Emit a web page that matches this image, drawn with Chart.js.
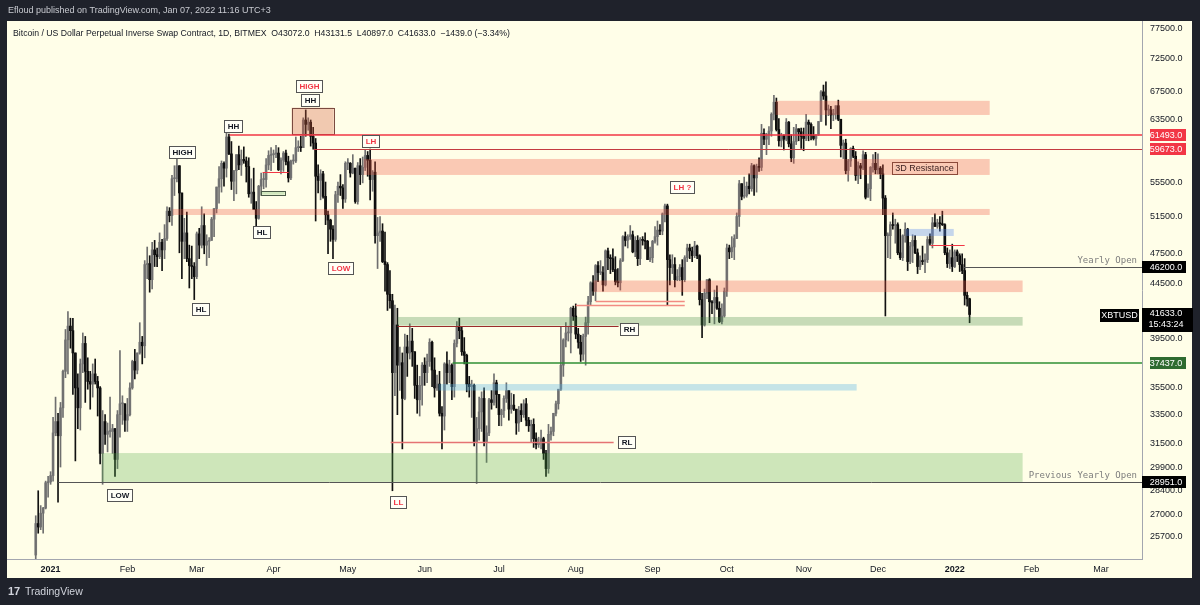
<!DOCTYPE html>
<html>
<head>
<meta charset="utf-8">
<script src="https://cdn.jsdelivr.net/npm/chart.js@4.4.1/dist/chart.umd.min.js"></script>
<style>
  html, body { margin: 0; padding: 0; background: #1f222b; overflow: hidden; }
  canvas { display: block; }
</style>
</head>
<body>
<canvas id="chart" width="1200" height="605"></canvas>
<script>
// daily candles, one row per day: [open, high, low, close]
const dec2020 = [
  [24700,26900,24500,26450],[26450,28400,25900,26250],[26250,27500,26100,27050],[27050,27400,25900,27350],
  [27350,29000,27300,28900],[28900,29300,28000,28951]
];
const jan2021 = [
  [28951,29600,28800,29350],[29350,33300,29000,32200],[32200,34800,32000,33000],[33000,33600,27700,32000],
  [32000,34400,29900,34000],[34000,36900,33300,36800],[36800,40300,36300,39400],[39400,41900,36600,40600],
  [40600,41300,38700,40200],[40200,41300,35000,38300],[38300,38300,30300,35500],[35500,36600,32500,34000],
  [34000,37800,32400,37400],[37400,40000,36700,39100],[39100,39700,34400,36800],[36800,37900,35400,36000],
  [36000,36800,33900,35800],[35800,37400,34800,36600],[36600,37800,35800,36000],[36000,36400,33400,35500],
  [35500,35600,30100,30800],[30800,33800,28800,33000],[33000,33500,31400,32100],[32100,32900,30900,32300],
  [32300,34800,31900,32300],[32300,32800,30800,32500],[32500,32500,29300,30400],[30400,33800,29800,33500],
  [33500,38500,31900,34300],[34300,34900,32800,34300],[34300,34300,32300,33100]
];
const feb2021 = [
  [33100,34700,32300,33500],[33500,35900,33400,35500],[35500,37700,35400,37600],[37600,38600,36200,36900],
  [36900,38300,36600,38300],[38300,40900,38200,39200],[39200,39700,37400,38900],[38900,46800,37900,46400],
  [46400,48200,45000,46500],[46500,47300,43700,44900],[44900,48700,44000,47900],[47900,48900,46200,47400],
  [47400,48100,46200,47200],[47200,49700,47000,48700],[48700,49000,45800,47900],[47900,50600,47000,49100],
  [49100,52600,48900,52100],[52100,52500,50900,51600],[51600,56300,50500,55900],[55900,57500,53900,55900],
  [55900,58300,55500,57500],[57500,57500,47600,54200],[54200,54200,45000,48800],[48800,51300,47000,49700],
  [49700,52000,46700,47000],[47000,48400,44100,46300],[46300,48300,45000,46200],[46200,46600,43000,45200]
];
const mar2021 = [
  [45200,49800,45000,49600],[49600,50200,47000,48400],[48400,52600,48100,50500],[50500,51800,47500,48400],
  [48400,49500,46300,48800],[48800,49200,47100,48900],[48900,51400,48900,51200],[51200,52400,49300,52400],
  [52400,54900,51900,54900],[54900,57400,53000,55900],[55900,58100,54300,57800],[57800,58000,55000,57200],
  [57200,61700,56100,61200],[61200,61600,58900,59000],[59000,60600,54600,55600],[55600,56900,53300,56900],
  [56900,58900,54100,58900],[58900,60000,57000,57600],[57600,59500,56300,58300],[58300,59900,57800,58100],
  [58100,58600,55500,57400],[57400,58500,53700,54100],[54100,55900,53000,54300],[54300,57200,52500,52300],
  [52300,53200,50400,51300],[51300,55100,51200,55000],[55000,56600,53900,55800],[55800,56600,54700,55800],
  [55800,58400,54900,57600],[57600,59400,57000,58800],[58800,59800,56900,58900]
];
const apr2021 = [
  [58900,59500,57900,59000],[59000,60100,58500,59100],[59100,59800,56900,57000],[57000,58500,56500,58200],
  [58200,59300,56800,59100],[59100,59500,57600,58000],[58000,58700,55500,56000],[56000,58200,55800,58100],
  [58100,58900,57700,58100],[58100,61200,57900,59800],[59800,60700,59300,59900],[59900,61300,59300,59800],
  [59800,63800,59800,63500],[63500,64900,61300,62900],[62900,63800,62100,63200],[63200,63500,60000,61300],
  [61300,62500,59600,60400],[60400,61000,51000,56200],[56200,57600,54200,55700],[55700,57000,53400,56500],
  [56500,56800,53600,53800],[53800,55500,50600,51700],[51700,52100,47500,51100],[51100,51200,48800,50100],
  [50100,50500,47000,49000],[49000,54400,48800,54000],[54000,55500,53100,55000],[55000,56400,53900,54800],
  [54800,55200,52400,53500],[53500,58000,53100,57800]
];
const may2021 = [
  [57800,58400,57000,57800],[57800,57900,56100,56600],[56600,58900,56500,57200],[57200,57200,53000,53200],
  [53200,57900,52900,57500],[57500,58400,55200,56400],[56400,58600,55400,57300],[57300,59500,56900,58800],
  [58800,59300,56200,58200],[58200,59600,53400,55800],[55800,56900,54400,56700],[56700,58000,48600,49400],
  [49400,51400,46000,49700],[49700,51500,48800,49900],[49900,50700,46600,46700],[46700,49800,43800,46400],
  [46400,46600,42000,43500],[43500,45800,42200,42900],[42900,43500,28400,36700],[36700,42500,34900,40700],
  [40700,42200,33500,37300],[37300,38800,35300,37500],[37500,38300,31100,34700],[34700,39900,34600,38800],
  [38800,39800,36400,38300],[38300,40800,37800,39300],[39300,40400,37200,38400],[38400,38400,34700,35700],
  [35700,37300,33600,34600],[34600,36400,33400,35700],[35700,37500,34200,37300]
];
const jun2021 = [
  [37300,37900,35700,36700],[36700,38200,35900,37600],[37600,39500,37200,39200],[39200,39300,35600,36900],
  [36900,37900,34800,35500],[35500,36500,35300,35800],[35800,36800,33400,33600],[33600,34100,31100,33400],
  [33400,37500,32400,37400],[37400,38400,35800,36700],[36700,37700,35900,37300],[37300,37400,34600,35600],
  [35600,39400,34800,39100],[39100,41000,38800,40500],[40500,41300,39500,40200],[40200,40500,38100,38400],
  [38400,39600,37400,38100],[38100,38200,35200,35800],[35800,36400,34800,35600],[35600,36100,33300,35700],
  [35700,35800,31300,31600],[31600,33300,28850,32500],[32500,34800,31700,33700],[33700,35200,32300,34700],
  [34700,35500,31300,31600],[31600,32700,30200,32200],[32200,34700,32000,34600],[34600,35300,33900,34400],
  [34400,36600,34200,35900],[35900,36100,34000,35000]
];
const jul2021 = [
  [35000,35000,32700,33500],[33500,33900,32700,33800],[33800,34900,33300,34700],[34700,35900,34400,35300],
  [35300,35300,33100,33900],[33900,35100,33600,34200],[34200,35000,33800,33900],[33900,33900,32100,32900],
  [32900,34100,32300,33800],[33800,34300,33000,33500],[33500,34600,33300,34300],[34300,34700,32700,33100],
  [33100,33300,32300,32700],[32700,33100,31600,32800],[32800,33200,31200,31800],[31800,32200,31100,31400],
  [31400,31900,31200,31500],[31500,32400,31100,31800],[31800,31900,30400,30800],[30800,31000,29300,29800],
  [29800,32800,29500,32100],[32100,32600,31700,32300],[32300,33600,32000,33600],[33600,34500,33400,34300],
  [34300,35400,33900,35400],[35400,40500,35300,37300],[37300,39500,36400,39400],[39400,40900,38800,40000],
  [40000,40600,39300,40000],[40000,42300,38300,42200],[42200,42400,41100,41500]
];
const aug2021 = [
  [41500,42600,39500,39900],[39900,40400,38700,39200],[39200,39800,37600,38200],[38200,39900,37700,39700],
  [39700,41400,37300,40900],[40900,43300,39900,42800],[42800,44700,42500,44600],[44600,45300,43400,43800],
  [43800,46400,42900,46300],[46300,46700,44700,45600],[45600,46800,45400,45600],[45600,46200,43800,44400],
  [44400,47900,44300,47800],[47800,48100,45900,47100],[47100,47400,45500,47000],[47000,48000,45700,45900],
  [45900,47200,44400,44700],[44700,46000,44200,44600],[44600,47000,43900,46800],[46800,49400,46700,49300],
  [49300,49800,48300,48900],[48900,49500,48100,49300],[49300,50500,49000,49500],[49500,49900,47600,47700],
  [47700,49300,47200,48900],[48900,49400,46300,47000],[47000,49200,46400,49000],[49000,49300,48400,48900],
  [48900,49700,48000,48800],[48800,48900,46900,46900],[46900,48200,46700,47100]
];
const sep2021 = [
  [47100,48900,46600,48800],[48800,50400,48600,49300],[49300,51000,48400,50000],[50000,50600,49500,49900],
  [49900,51900,49500,51800],[51800,52900,50900,52700],[52700,52900,42500,46900],[46900,47400,44400,46100],
  [46100,47400,45500,46400],[46400,47100,44200,44900],[44900,45900,44800,45200],[45200,46400,44800,46100],
  [46100,46900,43400,44900],[44900,47300,44700,47100],[47100,48500,46700,48100],[48100,48500,47000,47800],
  [47800,48200,46700,47300],[47300,48800,47100,48300],[48300,48400,47000,47300],[47300,47400,42500,43000],
  [43000,43600,39600,40700],[40700,44000,40600,43600],[43600,44900,43100,44900],[44900,45000,40900,42800],
  [42800,42900,41700,42700],[42700,43900,40800,43200],[43200,44300,42100,42200],[42200,42800,40900,41000],
  [41000,42600,40800,41500],[41500,44100,41400,43800]
];
const oct2021 = [
  [43800,48500,43300,48100],[48100,48400,47000,47700],[47700,49300,47100,48200],[48200,49500,46900,49100],
  [49100,51900,49100,51500],[51500,55700,50400,55300],[55300,55300,53400,53800],[53800,56100,53600,53900],
  [53900,55500,53700,55000],[55000,56500,54100,54700],[54700,57800,54400,57500],[57500,57600,53900,56000],
  [56000,57700,54300,57400],[57400,58500,56800,57300],[57300,62900,56900,61700],[61700,62300,60200,60900],
  [60900,61700,58900,61500],[61500,62600,60200,62000],[62000,64500,61300,64300],[64300,67000,63500,66000],
  [66000,66600,62000,62200],[62200,63700,60000,60700],[60700,61700,59900,61400],[61400,61500,59500,60900],
  [60900,63700,60700,63200],[63200,63300,59900,60300],[60300,61500,58000,58500],[58500,62500,57800,60600],
  [60600,62900,60200,62300],[62300,62300,60700,61900],[61900,62400,59700,61300]
];
const nov2021 = [
  [61300,62400,59400,61000],[61000,64300,60700,63200],[63200,63500,60700,62900],[62900,63100,60800,61400],
  [61400,62600,60800,61000],[61000,61500,60100,61500],[61500,63300,61400,63300],[63300,67700,63300,67500],
  [67500,68500,66400,66900],[66900,69000,62800,64900],[64900,65600,64100,64900],[64900,65400,62300,64200],
  [64200,65000,63400,64400],[64400,65500,63600,65500],[65500,66300,63400,63600],[63600,63600,58600,60100],
  [60100,60800,58400,60400],[60400,60900,56500,56900],[56900,58300,55600,58100],[58100,59800,57400,59700],
  [59700,60000,58500,58700],[58700,59300,55700,56300],[56300,58000,55300,57500],[57500,57800,55900,57200],
  [57200,59400,57000,58900],[58900,59200,53500,53700],[53700,55300,53700,54700],[54700,57400,53300,57300],
  [57300,58900,56700,57800],[57800,59200,56500,57000]
];
const dec2021 = [
  [57000,59000,56500,57200],[57200,57400,55900,56500],[56500,57600,51700,53600],[53600,53900,41500,49400],
  [49400,49700,47100,49400],[49400,50900,47000,50600],[50600,51900,50100,50500],[50500,51200,48600,50600],
  [50600,50800,47400,47600],[47600,50100,46900,47100],[47100,49500,46800,49400],[49400,50800,48700,50100],
  [50100,50200,45800,46700],[46700,48700,46500,48300],[48300,49500,46600,48900],[48900,49400,47500,47600],
  [47600,48000,45500,46200],[46200,47300,45900,46800],[46800,48300,46400,46700],[46700,47500,45600,46900],
  [46900,49300,46600,49000],[49000,49600,48400,48600],[48600,51400,48100,50800],[50800,51800,50400,50400],
  [50400,51200,50200,50800],[50800,51500,49900,50700],[50700,52100,50500,50600],[50600,50700,47400,47600],
  [47600,48100,46100,46500],[46500,47900,46000,47100],[47100,48500,45700,46200]
];
const jan2022 = [
  [46200,47900,46100,47700],[47700,47900,46700,47300],[47300,47500,45700,46400],[46400,47500,45500,45800],
  [45800,47000,42500,43400],[43400,43700,42400,43072],[43072,43131.5,40897,41633]
];

// each month and the day number (from 1 Jan 2021) of its first candle
const months = [
  [dec2020, -6], [jan2021, 0], [feb2021, 31], [mar2021, 59], [apr2021, 90], [may2021, 120],
  [jun2021, 151], [jul2021, 181], [aug2021, 212], [sep2021, 243], [oct2021, 273],
  [nov2021, 304], [dec2021, 334], [jan2022, 365]
];

// axis ticks
const monthTickDays = [0, 31, 59, 90, 120, 151, 181, 212, 243, 273, 304, 334, 365, 396, 424];
const monthTickLabels = ['2021', 'Feb', 'Mar', 'Apr', 'May', 'Jun', 'Jul', 'Aug', 'Sep', 'Oct', 'Nov', 'Dec', '2022', 'Feb', 'Mar'];
const priceTicks = [77500, 72500, 67500, 63500, 55500, 51500, 47500, 44500, 39500, 35500, 33500, 31500, 29900, 28400, 27000, 25700];

// drawings on the chart, in days and prices
const zones = [
  { x0: 292.7, x1: 379.1, lo: 64200, hi: 66200, fill: 'rgba(240,80,60,0.3)' },
  { x0: 126.4, x1: 379.1, lo: 56360, hi: 58350, fill: 'rgba(240,80,60,0.3)' },
  { x0: 49.3, x1: 379.1, lo: 51670, hi: 52350, fill: 'rgba(240,80,60,0.3)' },
  { x0: 219.2, x1: 392.4, lo: 43710, hi: 44820, fill: 'rgba(240,80,60,0.3)' },
  { x0: 140.1, x1: 392.4, lo: 40640, hi: 41410, fill: 'rgba(70,140,70,0.3)' },
  { x0: 20.6, x1: 392.4, lo: 28950, hi: 30820, fill: 'rgba(80,170,70,0.28)' },
  { x0: 156.6, x1: 325.4, lo: 35300, hi: 35800, fill: 'rgba(90,180,230,0.35)' },
  { x0: 345.2, x1: 364.6, lo: 49370, hi: 50130, fill: 'rgba(90,140,240,0.35)' },
  { x0: 97.3, x1: 114.3, lo: 61600, hi: 65220, fill: 'rgba(210,90,60,0.32)', stroke: '#7a4a40' },
  { x0: 84.8, x1: 94.5, lo: 54000, hi: 54430, fill: 'rgba(120,190,110,0.35)', stroke: '#4a5a48' }
];
const levels = [
  { x0: 72.3, x1: 441, price: 61493, color: '#f23645', width: 1.3, soft: true },
  { x0: 106.2, x1: 441, price: 59673, color: '#c43a3f', width: 1 },
  { x0: 140.1, x1: 229.3, price: 40640, color: '#9c2b2b', width: 1 },
  { x0: 162.3, x1: 441, price: 37437, color: '#2f8f35', width: 1.3, soft: true },
  { x0: 137.3, x1: 227.3, price: 31570, color: '#e57373', width: 1.5 },
  { x0: 3, x1: 441, price: 28951, color: '#555555', width: 1 },
  { x0: 368.6, x1: 441, price: 46200, color: '#555555', width: 1 },
  { x0: 355.3, x1: 369, price: 48410, color: '#f23645', width: 1 },
  { x0: 220, x1: 256, price: 42870, color: '#f28b82', width: 1.5 },
  { x0: 212, x1: 256, price: 42500, color: '#f28b82', width: 1.5 },
  { x0: 85.6, x1: 96.1, price: 56720, color: '#f23645', width: 1 }
];
const notes = [
  { day: 52.9, price: 59240, text: 'HIGH', color: '#131722' },
  { day: 60.6, price: 42140, text: 'HL', color: '#131722' },
  { day: 73.5, price: 62680, text: 'HH', color: '#131722' },
  { day: 85.2, price: 49800, text: 'HL', color: '#131722' },
  { day: 104.2, price: 68360, text: 'HIGH', color: '#f23645' },
  { day: 104.6, price: 66320, text: 'HH', color: '#131722' },
  { day: 129.2, price: 60670, text: 'LH', color: '#f23645' },
  { day: 117.1, price: 46060, text: 'LOW', color: '#f23645' },
  { day: 27.9, price: 28140, text: 'LOW', color: '#131722' },
  { day: 140.1, price: 27720, text: 'LL', color: '#f23645' },
  { day: 254.7, price: 54910, text: 'LH ?', color: '#f23645' },
  { day: 233.3, price: 40350, text: 'RH', color: '#131722' },
  { day: 232.5, price: 31570, text: 'RL', color: '#131722' }
];
const priceTags = [
  { price: 61493, text: '61493.0', bg: '#f23645', full: false },
  { price: 59673, text: '59673.0', bg: '#f23645', full: false },
  { price: 46200, text: '46200.0', bg: '#000000', full: true },
  { price: 37437, text: '37437.0', bg: '#2e6b30', full: false },
  { price: 28951, text: '28951.0', bg: '#000000', full: true }
];
const lastPrice = 41633;

// build candle datasets
const wicks = [], bodies = [], wickColors = [], bodyColors = [];
months.forEach(([rows, firstDay]) => {
  rows.forEach(([o, h, l, c], i) => {
    const day = firstDay + i;
    const up = c >= o;
    wicks.push({ x: day, y: [l, h] });
    bodies.push({ x: day, y: [o, c] });
    wickColors.push(up ? '#6f6f6f' : '#111111');
    bodyColors.push(up ? '#7d7d7d' : '#000000');
  });
});

const FONT = '"Liberation Sans", Arial, sans-serif';
Chart.defaults.font.family = FONT;

function labelBox(c, text, cx, cy, color) {
  c.font = 'bold 8px ' + FONT;
  const w = Math.round(c.measureText(text).width + 6);
  const h = 12;
  const x = Math.round(cx - w / 2), y = Math.round(cy - h / 2);
  c.fillStyle = '#fffff6';
  c.fillRect(x, y, w, h);
  c.strokeStyle = '#555';
  c.lineWidth = 1;
  c.strokeRect(x + 0.5, y + 0.5, w, h);
  c.fillStyle = color;
  c.textAlign = 'center';
  c.textBaseline = 'middle';
  c.fillText(text, x + w / 2 + 0.5, y + h / 2 + 1);
}

const drawings = {
  id: 'drawings',
  beforeDraw(chart) {
    const c = chart.ctx;
    c.save();
    c.fillStyle = '#1f222b';
    c.fillRect(0, 0, chart.width, chart.height);
    c.fillStyle = '#fffee8';
    c.fillRect(7, 21, 1185, 557);
    c.restore();
  },
  afterDatasetsDraw(chart) {
    const c = chart.ctx, xs = chart.scales.x, ys = chart.scales.y, a = chart.chartArea;
    c.save();
    c.beginPath();
    c.rect(a.left, a.top, a.right - a.left, a.bottom - a.top);
    c.clip();
    zones.forEach(z => {
      const x0 = xs.getPixelForValue(z.x0), x1 = xs.getPixelForValue(z.x1);
      const y0 = ys.getPixelForValue(z.hi), y1 = ys.getPixelForValue(z.lo);
      c.fillStyle = z.fill;
      c.fillRect(x0, y0, x1 - x0, y1 - y0);
      if (z.stroke) {
        c.strokeStyle = z.stroke;
        c.lineWidth = 1;
        c.strokeRect(Math.round(x0) + 0.5, Math.round(y0) + 0.5, Math.round(x1 - x0), Math.round(y1 - y0));
      }
    });
    levels.forEach(l => {
      const py = ys.getPixelForValue(l.price);
      const y = l.soft ? Math.round(py) : Math.round(py) + 0.5;
      c.strokeStyle = l.color;
      c.lineWidth = l.width;
      c.beginPath();
      c.moveTo(xs.getPixelForValue(l.x0), y);
      c.lineTo(xs.getPixelForValue(l.x1), y);
      c.stroke();
    });
    notes.forEach(n => labelBox(c, n.text, xs.getPixelForValue(n.day), ys.getPixelForValue(n.price), n.color));

    // 3D Resistance label
    const rx = xs.getPixelForValue(352.8), ry = ys.getPixelForValue(57220);
    c.font = '9px ' + FONT;
    const rw = Math.round(c.measureText('3D Resistance').width + 6);
    c.strokeStyle = '#8b4a3a';
    c.lineWidth = 1;
    c.strokeRect(Math.round(rx - rw / 2) + 0.5, Math.round(ry - 6) + 0.5, rw, 12);
    c.fillStyle = '#3d2222';
    c.textAlign = 'center';
    c.textBaseline = 'middle';
    c.fillText('3D Resistance', rx, ry + 1);

    // level captions
    c.font = '9px "DejaVu Sans Mono", monospace';
    c.fillStyle = '#7d7d7d';
    c.textAlign = 'right';
    c.textBaseline = 'alphabetic';
    c.fillText('Yearly Open', a.right - 5, ys.getPixelForValue(46200) - 4);
    c.fillText('Previous Yearly Open', a.right - 5, ys.getPixelForValue(28951) - 4);
    c.restore();
  },
  afterDraw(chart) {
    const c = chart.ctx, ys = chart.scales.y, a = chart.chartArea;
    c.save();
    c.textBaseline = 'middle';
    c.textAlign = 'left';
    c.font = '9px ' + FONT;
    c.fillStyle = '#c9cbd1';
    c.fillText('Efloud published on TradingView.com, Jan 07, 2022 11:16 UTC+3', 8, 11);
    c.font = '8.7px ' + FONT;
    c.fillStyle = '#131722';
    c.fillText('Bitcoin / US Dollar Perpetual Inverse Swap Contract, 1D, BITMEX  O43072.0  H43131.5  L40897.0  C41633.0  \u22121439.0 (\u22123.34%)', 13, 34);

    // footer
    c.font = 'bold 11px ' + FONT;
    c.fillStyle = '#d1d4dc';
    c.fillText('17', 8, 592);
    c.font = '10.5px ' + FONT;
    c.fillText('TradingView', 25, 592);

    // price tags on the axis
    c.font = '9px ' + FONT;
    c.textAlign = 'center';
    priceTags.forEach(t => {
      const y = Math.round(ys.getPixelForValue(t.price));
      const x0 = t.full ? a.right : a.right + 8;
      const x1 = 1186;
      c.fillStyle = t.bg;
      c.fillRect(x0, y - 6, x1 - x0, 12);
      c.fillStyle = '#ffffff';
      c.fillText(t.text, (a.right + x1) / 2 + 2, y + 0.5);
    });
    const ly = Math.round(ys.getPixelForValue(lastPrice));
    c.fillStyle = '#000000';
    c.fillRect(a.right, ly - 7, 51, 24);
    c.fillRect(a.right - 42, ly - 6, 39, 13);
    c.fillStyle = '#ffffff';
    c.fillText('41633.0', a.right + 24, ly - 1);
    c.fillText('15:43:24', a.right + 24, ly + 10);
    c.fillText('XBTUSD', a.right - 22.5, ly + 1);
    c.restore();
  }
};

new Chart(document.getElementById('chart'), {
  type: 'bar',
  data: {
    datasets: [
      { data: wicks, backgroundColor: wickColors, barThickness: 1, grouped: false, minBarLength: 1 },
      { data: bodies, backgroundColor: bodyColors, barThickness: 2, grouped: false, minBarLength: 1 }
    ]
  },
  options: {
    responsive: false,
    animation: false,
    devicePixelRatio: 1,
    layout: { padding: { left: 7, right: 8, top: 21, bottom: 28 } },
    plugins: { legend: { display: false }, tooltip: { enabled: false } },
    scales: {
      x: {
        type: 'linear',
        min: -17.6,
        max: 440.6,
        offset: false,
        grid: { display: false, drawTicks: false },
        border: { color: '#a3a6af' },
        afterBuildTicks: s => { s.ticks = monthTickDays.map(v => ({ value: v })); },
        afterFit: s => { s.height = 18; },
        ticks: {
          autoSkip: false,
          maxRotation: 0,
          padding: 5,
          color: '#131722',
          font: ctx => ({ size: 9, weight: ctx.tick && (ctx.tick.value === 0 || ctx.tick.value === 365) ? 'bold' : 'normal' }),
          callback: v => monthTickLabels[monthTickDays.indexOf(v)]
        }
      },
      y: {
        type: 'logarithmic',
        position: 'right',
        min: 24490,
        max: 78720,
        grid: { display: false, drawTicks: false },
        border: { color: '#a3a6af' },
        afterBuildTicks: s => { s.ticks = priceTicks.map(v => ({ value: v })); },
        afterFit: s => { s.width = 50; },
        ticks: {
          padding: 8,
          color: '#131722',
          font: { size: 9 },
          callback: v => Number(v).toFixed(1)
        }
      }
    }
  },
  plugins: [drawings]
});
</script>
</body>
</html>
